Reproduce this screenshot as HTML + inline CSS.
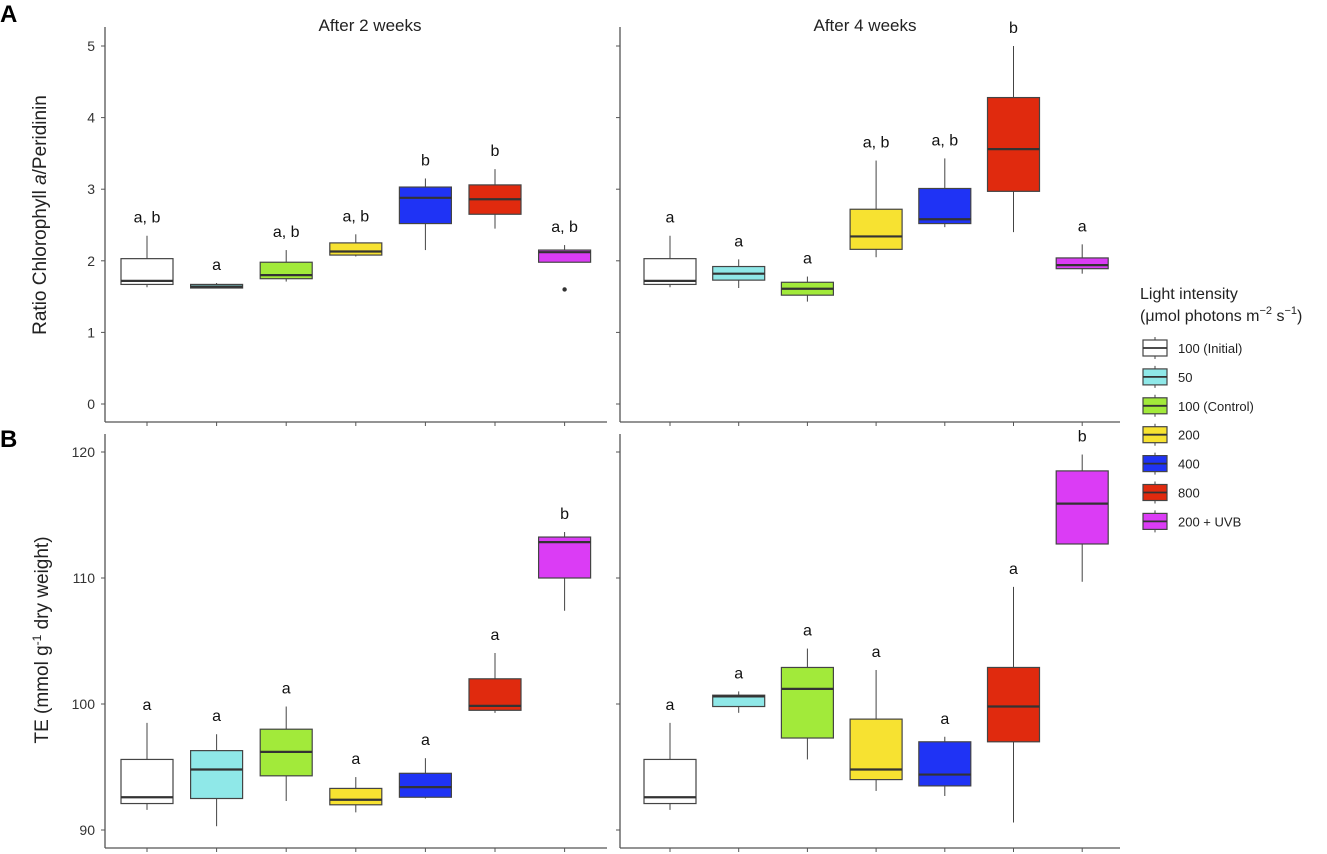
<!DOCTYPE html>
<html><head><meta charset="utf-8"><style>
html,body{margin:0;padding:0;background:#fff;}
svg{display:block;font-family:"Liberation Sans",Arial,sans-serif;}
</style></head><body>
<svg id="chart" width="1327" height="854" viewBox="0 0 1327 854" xmlns="http://www.w3.org/2000/svg"></svg>
<script>
const categories = ["100 (Initial)","50","100 (Control)","200","400","800","200 + UVB"];
const colors = ["#ffffff","#8fe8e8","#a2ea3a","#f7e231","#1f33f5","#e02a0e","#db3cf5"];
// [min, q1, median, q3, max]
const ratio2w = [[1.63,1.67,1.72,2.03,2.35],[1.62,1.62,1.64,1.67,1.69],[1.71,1.75,1.80,1.98,2.15],[2.06,2.08,2.13,2.25,2.37],[2.15,2.52,2.88,3.03,3.15],[2.45,2.65,2.86,3.06,3.28],[1.98,1.98,2.12,2.15,2.22]];
const ratio2wOutliers = [[],[],[],[],[],[],[1.60]];
const ratio2wLabels = ["a, b","a","a, b","a, b","b","b","a, b"];
const ratio4w = [[1.63,1.67,1.72,2.03,2.35],[1.62,1.73,1.82,1.92,2.02],[1.43,1.52,1.61,1.70,1.78],[2.05,2.16,2.34,2.72,3.40],[2.47,2.52,2.58,3.01,3.43],[2.40,2.97,3.56,4.28,5.00],[1.82,1.89,1.94,2.04,2.23]];
const ratio4wLabels = ["a","a","a","a, b","a, b","b","a"];
const te2w = [[91.6,92.1,92.6,95.6,98.5],[90.3,92.5,94.8,96.3,97.6],[92.3,94.3,96.2,98.0,99.8],[91.4,92.0,92.4,93.3,94.2],[92.5,92.6,93.4,94.5,95.7],[99.3,99.5,99.85,102.0,104.05],[107.4,110.0,112.85,113.25,113.65]];
const te2wLabels = ["a","a","a","a","a","a","b"];
const te4w = [[91.6,92.1,92.6,95.6,98.5],[99.3,99.8,100.6,100.7,101.0],[95.6,97.3,101.2,102.9,104.4],[93.1,94.0,94.8,98.8,102.7],[92.7,93.5,94.4,97.0,97.4],[90.6,97.0,99.8,102.9,109.3],[109.7,112.7,115.9,118.5,119.8]];
const te4wLabels = ["a","a","a","a","a","a","b"];
const ratioTicks = [0,1,2,3,4,5];
const teTicks = [90,100,110,120];

const svg = document.getElementById('chart');
const NS = "http://www.w3.org/2000/svg";
function mk(tag, attrs, parent){const e=document.createElementNS(NS,tag);for(const k in attrs)e.setAttribute(k,attrs[k]);(parent||svg).appendChild(e);return e;}
const yRatio = v => 404 - 71.6*v;
const yTE = v => 830 - 12.6*(v-90);

function panel(name, axX, x0, dx, top, bottom, xEnd, yf, ticks, showTickLabels, data, labels, outliers){
  const g = mk('g',{});
  
  
  const ax = mk('line',{x1:axX,y1:top,x2:axX,y2:bottom,stroke:'#555','stroke-width':1.3},g);
   
  const bx = mk('line',{x1:axX,y1:bottom,x2:xEnd,y2:bottom,stroke:'#555','stroke-width':1.3},g);
   
  ticks.forEach(t=>{
    const y=yf(t);
    mk('line',{x1:axX-4,y1:y,x2:axX,y2:y,stroke:'#555','stroke-width':1},g);
    if(showTickLabels){
      const tx=mk('text',{x:axX-10,y:y+5,'text-anchor':'end','font-size':14,fill:'#333'},g);
      tx.textContent=t;
       
    }
  });
  data.forEach((d,i)=>{
    const cx = x0 + dx*i, w=52;
    mk('line',{x1:cx,y1:bottom,x2:cx,y2:bottom+4,stroke:'#555','stroke-width':1},g);
    const bg = mk('g',{},g);
    
    
    mk('line',{x1:cx,y1:yf(d[0]),x2:cx,y2:yf(d[4]),stroke:'#444','stroke-width':1},bg);
    mk('rect',{x:cx-w/2,y:yf(d[3]),width:w,height:Math.max(yf(d[1])-yf(d[3]),1),fill:colors[i],stroke:'#444','stroke-width':1.2},bg);
    mk('line',{x1:cx-w/2,y1:yf(d[2]),x2:cx+w/2,y2:yf(d[2]),stroke:'#333','stroke-width':2.2},bg);
    if(outliers) outliers[i].forEach(o=>mk('circle',{cx:cx,cy:yf(o),r:2.2,fill:'#333'},bg));
    const lb = mk('text',{x:cx,y:yf(d[4])-13,'text-anchor':'middle','font-size':16,fill:'#111'},g);
    lb.textContent = labels[i];
     
  });
}
panel('panel-a-2-weeks',105,147,69.6,27,422,607,yRatio,ratioTicks,true,ratio2w,ratio2wLabels,ratio2wOutliers);
panel('panel-a-4-weeks',620,670,68.7,27,422,1120,yRatio,ratioTicks,false,ratio4w,ratio4wLabels,null);
panel('panel-b-2-weeks',105,147,69.6,434,848,607,yTE,teTicks,true,te2w,te2wLabels,null);
panel('panel-b-4-weeks',620,670,68.7,434,848,1120,yTE,teTicks,false,te4w,te4wLabels,null);

// Legend
const lg = mk('g',{});
 
categories.forEach((c,i)=>{
  const cy = 348 + 28.9*i;
  const e = mk('g',{},lg);
   
  mk('line',{x1:1155,y1:cy-11,x2:1155,y2:cy+11,stroke:'#444','stroke-width':1},e);
  mk('rect',{x:1143,y:cy-8,width:24,height:16,fill:colors[i],stroke:'#444','stroke-width':1.2},e);
  mk('line',{x1:1143,y1:cy,x2:1167,y2:cy,stroke:'#333','stroke-width':1.8},e);
  const t = mk('text',{x:1178,y:cy+5,'font-size':13,fill:'#222'},e);
  t.textContent=c;
});
</script>
<svg style="position:absolute;left:0;top:0" width="1327" height="854" xmlns="http://www.w3.org/2000/svg" font-family="Liberation Sans, Arial, sans-serif">
  <text x="0" y="22" font-size="24" font-weight="bold">A</text>
  <text x="0" y="447" font-size="24" font-weight="bold">B</text>
  <text x="370" y="31" font-size="17" text-anchor="middle" fill="#222">After 2 weeks</text>
  <text x="865" y="31" font-size="17" text-anchor="middle" fill="#222">After 4 weeks</text>
  <text transform="translate(46,215) rotate(-90)" font-size="19" text-anchor="middle" fill="#222">Ratio Chlorophyll <tspan font-style="italic">a</tspan>/Peridinin</text>
  <text transform="translate(48,640) rotate(-90)" font-size="19" text-anchor="middle" fill="#222">TE (mmol g<tspan font-size="12" dy="-7">-1</tspan><tspan dy="7"> dry weight)</tspan></text>
  <text x="1140" y="299" font-size="16" fill="#222">Light intensity</text>
  <text x="1140" y="321" font-size="16" fill="#222">(μmol photons m<tspan font-size="11" dy="-7">−2</tspan><tspan dy="7"> s</tspan><tspan font-size="11" dy="-7">−1</tspan><tspan dy="7">)</tspan></text>
</svg>
</body></html>
